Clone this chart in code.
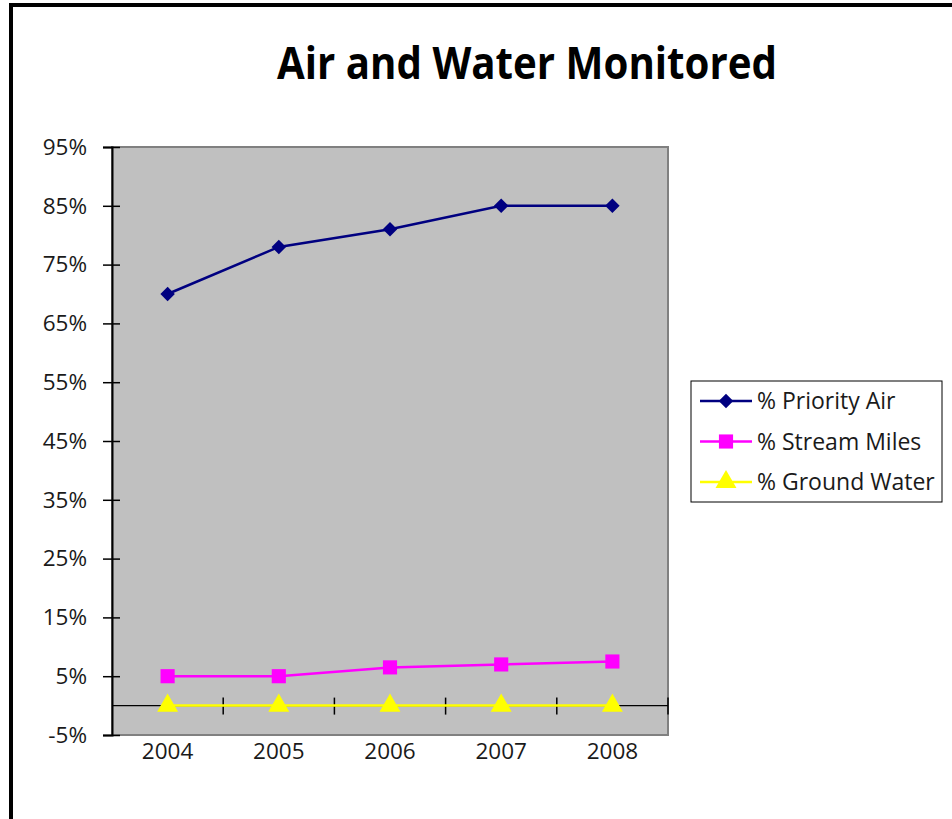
<!DOCTYPE html>
<html>
<head>
<meta charset="utf-8">
<script src="https://cdn.jsdelivr.net/npm/d3@7"></script>
<style>
  body { margin: 0; background: #fff; }
  svg { display: block; }
</style>
</head>
<body>
<div id="svgContainer"></div>
<script>
const years = ["2004", "2005", "2006", "2007", "2008"];
const priorityAir = [70, 78, 81, 85, 85];
const streamMiles = [5, 5, 6.5, 7, 7.5];
const groundWater = [0, 0, 0, 0, 0];
const yTicks = [-5, 5, 15, 25, 35, 45, 55, 65, 75, 85, 95];
const seriesNames = ["% Priority Air", "% Stream Miles", "% Ground Water"];

const width = 952;
const height = 819;
const plot = { left: 112, top: 147, right: 668, bottom: 735 };

const svg = d3
  .select("#svgContainer")
  .append("svg")
  .attr("width", width)
  .attr("height", height);

// outer frame
svg
  .append("rect")
  .attr("x", 11)
  .attr("y", 5)
  .attr("width", 1000)
  .attr("height", 1000)
  .attr("fill", "white")
  .attr("stroke", "black")
  .attr("stroke-width", 4);

svg
  .append("text")
  .attr("x", 527)
  .attr("y", 79)
  .attr("text-anchor", "middle")
  .attr("textLength", 500)
  .attr("lengthAdjust", "spacingAndGlyphs")
  .style("font-family", "'Open Sans', sans-serif")
  .style("font-weight", "bold")
  .style("font-size", "44px")
  .text("Air and Water Monitored");

const x = d3
  .scaleBand()
  .domain(years)
  .range([plot.left, plot.right]);

const y = d3
  .scaleLinear()
  .domain([-5, 95])
  .range([plot.bottom, plot.top]);

// plot area
svg
  .append("rect")
  .attr("x", plot.left)
  .attr("y", plot.top)
  .attr("width", plot.right - plot.left)
  .attr("height", plot.bottom - plot.top)
  .attr("fill", "#c0c0c0")
  .attr("stroke", "#808080")
  .attr("stroke-width", 2);

// y axis, ticks cross the line
const yAxis = d3
  .axisLeft(y)
  .tickValues(yTicks)
  .tickSize(9)
  .tickPadding(16)
  .tickFormat((d) => d + "%");

const yG = svg
  .append("g")
  .attr("transform", `translate(${plot.left},0)`)
  .call(yAxis);
yG.select(".domain").attr("stroke", "black").attr("stroke-width", 2);
yG.selectAll(".tick line").attr("x2", -9).attr("x1", 8).attr("stroke-width", 1.5);
yG.selectAll(".tick text")
  .style("font-family", "'Open Sans', sans-serif")
  .style("font-size", "22.5px")
  .attr("fill", "#1a1a1a");

// x axis sits at zero, ticks between categories
const y0 = y(0);
svg
  .append("line")
  .attr("x1", plot.left)
  .attr("x2", plot.right)
  .attr("y1", y0)
  .attr("y2", y0)
  .attr("stroke", "black")
  .attr("stroke-width", 1.2);

const boundaries = years.map((d) => x(d) + x.bandwidth());
svg
  .selectAll(".xtick")
  .data(boundaries)
  .enter()
  .append("line")
  .attr("class", "xtick")
  .attr("x1", (d) => d)
  .attr("x2", (d) => d)
  .attr("y1", y0 - 8)
  .attr("y2", y0 + 9)
  .attr("stroke", "black")
  .attr("stroke-width", 1.5);

svg
  .selectAll(".xlabel")
  .data(years)
  .enter()
  .append("text")
  .attr("class", "xlabel")
  .attr("x", (d) => x(d) + x.bandwidth() / 2)
  .attr("y", plot.bottom + 24)
  .attr("text-anchor", "middle")
  .style("font-family", "'Open Sans', sans-serif")
  .style("font-size", "22.5px")
  .attr("fill", "#1a1a1a")
  .text((d) => d);

// diamond drawn as a rotated square so it is not elongated
const series = [
  { name: seriesNames[0], values: priorityAir, color: "#000080", shape: d3.symbolSquare, size: 105, rotate: 45 },
  { name: seriesNames[1], values: streamMiles, color: "#ff00ff", shape: d3.symbolSquare, size: 200, rotate: 0 },
  { name: seriesNames[2], values: groundWater, color: "#ffff00", shape: d3.symbolTriangle, size: 190, rotate: 0 },
];

const line = d3
  .line()
  .x((d, i) => x(years[i]) + x.bandwidth() / 2)
  .y((d) => y(d));

series.forEach((s) => {
  svg
    .append("path")
    .attr("d", line(s.values))
    .attr("fill", "none")
    .attr("stroke", s.color)
    .attr("stroke-width", 2.5);

  svg
    .selectAll(null)
    .data(s.values)
    .enter()
    .append("path")
    .attr("d", d3.symbol().type(s.shape).size(s.size))
    .attr(
      "transform",
      (d, i) => `translate(${x(years[i]) + x.bandwidth() / 2},${y(d)}) rotate(${s.rotate})`
    )
    .attr("fill", s.color);
});

// legend
const legend = svg.append("g").attr("transform", "translate(691,381)");
legend
  .append("rect")
  .attr("width", 251)
  .attr("height", 121)
  .attr("fill", "white")
  .attr("stroke", "black")
  .attr("stroke-width", 1);

const item = legend
  .selectAll(".item")
  .data(series)
  .enter()
  .append("g")
  .attr("class", "item")
  .attr("transform", (d, i) => `translate(0,${20 + i * 40.5})`);

item
  .append("line")
  .attr("x1", 9)
  .attr("x2", 61)
  .attr("stroke", (d) => d.color)
  .attr("stroke-width", 2.5);

item
  .append("path")
  .attr("d", (d) => d3.symbol().type(d.shape).size(d.size)())
  .attr("transform", (d) => `translate(35,0) rotate(${d.rotate})`)
  .attr("fill", (d) => d.color);

item
  .append("text")
  .attr("x", 66)
  .attr("dy", "0.35em")
  .style("font-family", "'Open Sans', sans-serif")
  .style("font-size", "23px")
  .attr("fill", "#1a1a1a")
  .text((d) => d.name);
</script>
</body>
</html>
